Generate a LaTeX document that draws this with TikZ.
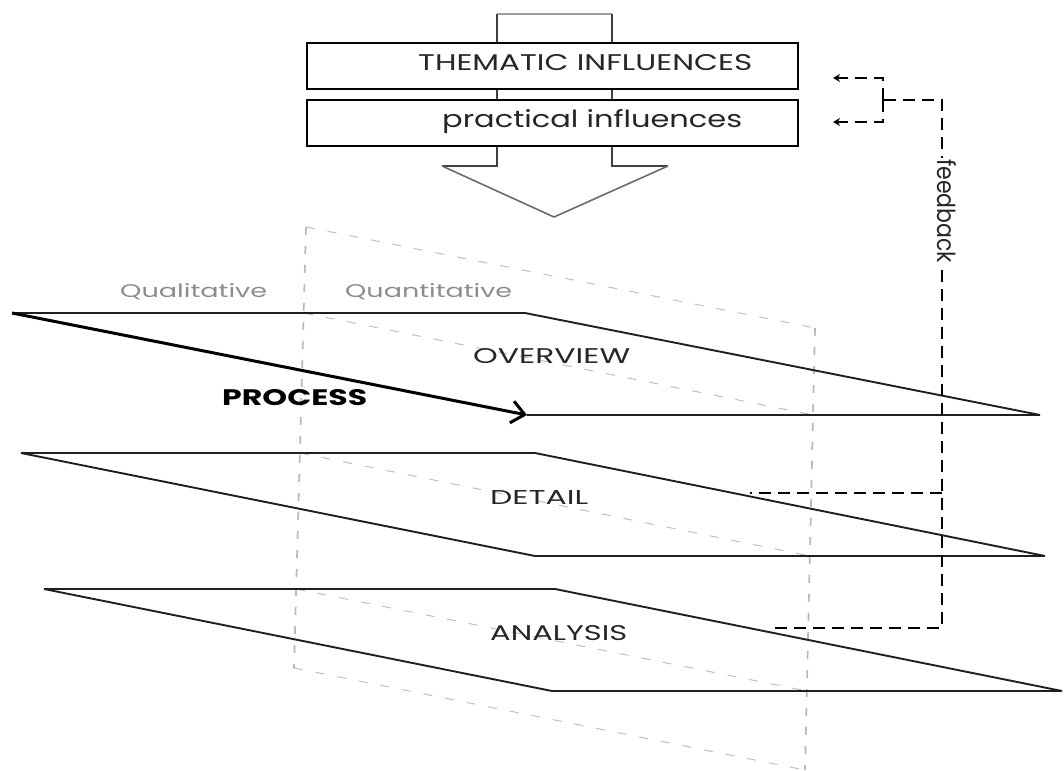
\documentclass[tikz,border=0pt]{standalone}
\usepackage{graphicx}
\usepackage{fontspec}
\setmainfont{Poppins}
\usetikzlibrary{arrows.meta}
\begin{document}
\begin{tikzpicture}[x=1pt,y=-1pt,
  infl/.style={draw=black, line width=2pt, minimum width=491pt, minimum height=46pt, inner sep=0pt},
  stem/.style={draw=black!75, line width=1.6pt},
  bar/.style={draw=black!38, line width=2.6pt},
  vee/.style={draw=black!58, line width=1.6pt, line join=miter},
  layer/.style={draw=black!88, line width=1.9pt, line join=miter},
  process/.style={draw=black, line width=3pt, -{Straight Barb[length=13pt,width=22pt]}},
  plane/.style={draw=black!28, line width=1.7pt, dash pattern=on 8pt off 11pt},
  section/.style={draw=black!25, line width=1pt, dash pattern=on 9pt off 13pt},
  fb/.style={draw=black, line width=2pt, dash pattern=on 12pt off 7pt},
  fbtip/.style={-{Stealth[length=7pt,width=8pt]}},
  lbl/.style={inner sep=0pt, anchor=base west, text=black!85},
  soft/.style={lbl, text=black!45}
]
\useasboundingbox (0,0) rectangle (1064,770);

% ---- vertical plane (qualitative | quantitative split) ----
\coordinate (pTL) at (306,227);
\coordinate (pTR) at (815,328);
\coordinate (pBR) at (805,770);
\coordinate (pBL) at (294,668);
\draw[plane] (pTL) -- (pBL);
\draw[plane] (pTR) -- (pBR);
\draw[section] (pTL) -- (pTR);
\draw[section] (pBL) -- (pBR);
\coordinate (s1a) at (304,313); \coordinate (s1b) at (813,415);
\coordinate (s2a) at (300,453); \coordinate (s2b) at (810,556);
\coordinate (s3a) at (296,589); \coordinate (s3b) at (807,691);
\draw[section] (s1a) -- (s1b);
\draw[section] (s2a) -- (s2b);
\draw[section] (s3a) -- (s3b);

% ---- influence boxes and block arrow ----
\node[infl] (thematic) at (552.5,66) {};
\node[infl] (practical) at (552.5,123) {};
\node[lbl] (thematicTxt) at (418,71) {\resizebox{334pt}{16pt}{THEMATIC INFLUENCES}};
\node[lbl] (practicalTxt) at (442,128) {\resizebox{300pt}{18pt}{practical influences}};

\coordinate (tl) at (497,14);
\coordinate (tr) at (612,14);
\coordinate (sl) at (497,166);
\coordinate (sr) at (612,166);
\coordinate (wl) at (442,166);
\coordinate (wr) at (668,166);
\coordinate (tip) at (554,217);
\draw[bar] (tl) -- (tr);
\draw[stem] (tl) -- (tl |- thematic.north);
\draw[stem] (tr) -- (tr |- thematic.north);
\draw[stem] (tl |- thematic.south) -- (tl |- practical.north);
\draw[stem] (tr |- thematic.south) -- (tr |- practical.north);
\draw[stem] (tl |- practical.south) -- (sl) -- (wl);
\draw[stem] (tr |- practical.south) -- (sr) -- (wr);
\draw[vee] (wl) -- (tip) -- (wr);

% ---- layers ----
\coordinate (L1a) at (12,313);  \coordinate (L1b) at (525,313);
\coordinate (L1c) at (1040,415); \coordinate (L1d) at (527,415);
\coordinate (L2a) at (21,453);  \coordinate (L2b) at (535,453);
\coordinate (L2c) at (1045,556); \coordinate (L2d) at (535,556);
\coordinate (L3a) at (44,589);  \coordinate (L3b) at (555,589);
\coordinate (L3c) at (1062,691); \coordinate (L3d) at (552,691);
\draw[layer] (L1a) -- (L1b) -- (L1c) -- (L1d);
\draw[process] (L1a) -- (L1d);
\draw[layer] (L2a) -- (L2b) -- (L2c) -- (L2d) -- cycle;
\draw[layer] (L3a) -- (L3b) -- (L3c) -- (L3d) -- cycle;

% ---- labels ----
\node[soft] (qual) at (120,297) {\resizebox{147pt}{14pt}{Qualitative}};
\node[soft] (quant) at (345,297) {\resizebox{167pt}{14pt}{Quantitative}};
\node[lbl] (overview) at (473,363) {\resizebox{157pt}{15pt}{OVERVIEW}};
\node[lbl, text=black] (process) at (222,405) {\resizebox{145pt}{16pt}{\bfseries PROCESS}};
\node[lbl] (detail) at (490,504) {\resizebox{98pt}{14pt}{DETAIL}};
\node[lbl] (analysis) at (490,640) {\resizebox{137pt}{15pt}{ANALYSIS}};

% ---- feedback loop ----
\coordinate (fbA) at (942,628);
\coordinate (fbD) at (942,493);
\coordinate (fbTop) at (942,100);
\coordinate (fbJ) at (883,100);
\coordinate (fbU) at (883,78);
\coordinate (fbL) at (883,122);
\coordinate (arrU) at (833,78);
\coordinate (arrL) at (833,122);
\coordinate (detailEnd) at (750,493);
\coordinate (analysisEnd) at (775,628);
\draw[fb] (analysisEnd) -- (fbA) -- (fbTop) -- (fbJ);
\draw[fb] (fbD) -- (detailEnd);
\draw[fb, fbtip] (fbJ) -- (fbU) -- (arrU);
\draw[fb, fbtip] (fbJ) -- (fbL) -- (arrL);
\node[lbl, rotate=-90, fill=white, inner sep=1pt] (feedback) at (937,158) {\resizebox{104pt}{19pt}{feedback}};
\end{tikzpicture}
\end{document}
